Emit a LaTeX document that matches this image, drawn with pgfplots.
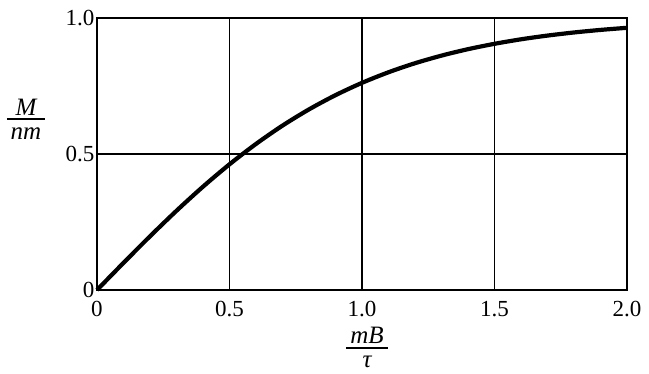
\documentclass[border=0pt]{standalone}
\usepackage{fontspec}
\setmainfont{Liberation Serif}
\usepackage{pgfplots}
\pgfplotsset{compat=1.18}
\begin{document}
\begin{tikzpicture}
\path[use as bounding box] (-97pt,-83pt) rectangle (552pt,290pt);
\begin{axis}[
  scale only axis,
  width=530pt, height=272pt,
  at={(0pt,0pt)}, anchor=south west,
  xmin=0, xmax=2, ymin=0, ymax=1,
  xtick={0,0.5,1,1.5,2},
  xticklabels={0,0.5,1.0,1.5,2.0},
  ytick={0,0.5,1},
  yticklabels={0,0.5,1.0},
  /pgf/number format/assume math mode=true,
  tick label style={font=\fontsize{23}{27}\selectfont},
  xticklabel style={yshift=-8pt},
  yticklabel style={xshift=1pt},
  major tick length=0pt,
  grid=major,
  major grid style={black, line width=1.2pt},
  axis line style={black, line width=1.8pt},
  clip=false,
]
\addplot[black, line width=4.2pt, smooth] coordinates {
(0,0) (0.1,0.0997) (0.2,0.1974) (0.3,0.2913) (0.4,0.3799) (0.5,0.4621)
(0.6,0.5370) (0.7,0.6044) (0.8,0.6640) (0.9,0.7163) (1.0,0.7616)
(1.1,0.8005) (1.2,0.8337) (1.3,0.8617) (1.4,0.8854) (1.5,0.9051)
(1.6,0.9217) (1.7,0.9354) (1.8,0.9468) (1.9,0.9562) (2.0,0.9640)
};
\end{axis}
\begin{scope}[every node/.style={font=\fontsize{25}{29}\selectfont\itshape, inner sep=0pt}]
\node at (-71pt,183pt) {M};
\draw[line width=1.5pt] (-90pt,171pt) -- (-52pt,171pt);
\node at (-71pt,156pt) {nm};
\node at (270pt,-45pt) {mB};
\draw[line width=1.5pt] (249pt,-58pt) -- (291pt,-58pt);
\node at (270pt,-72pt) {τ};
\end{scope}
\end{tikzpicture}
\end{document}
